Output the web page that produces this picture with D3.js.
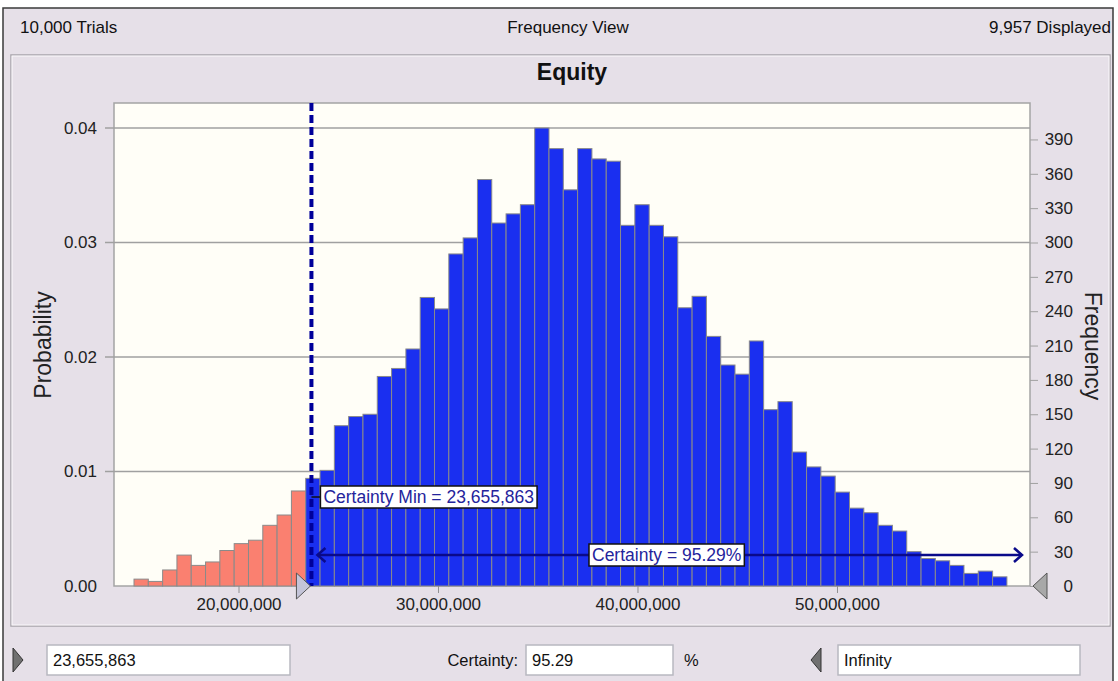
<!DOCTYPE html>
<html>
<head>
<meta charset="utf-8">
<script src="https://cdn.jsdelivr.net/npm/d3@7"></script>
<style>
    body { margin: 0; background: #fff; }
    svg { display: block; font-family: "Liberation Sans", Arial, sans-serif; }
</style>
</head>
<body>
<div id="chart"></div>
<script>
// histogram data
var binStart = 14762000;
var binWidth = 717300;
var frequencies = [
    6, 4, 14, 27, 18, 21, 31, 37, 40, 53, 62, 83,
    94, 101, 140, 148, 150, 183, 190, 207, 252, 242, 290, 304, 355, 317, 325, 333,
    400, 382, 346, 382, 373, 371, 315, 333, 315, 305, 243, 253, 218, 193, 185, 214,
    154, 161, 117, 104, 96, 82, 68, 64, 53, 48, 30, 24, 22, 18, 11, 13, 8
];
var certaintyMin = 23655863;
var certaintyPct = 95.29;
var probTicks = [0, 0.01, 0.02, 0.03, 0.04];
var freqTicks = [0, 30, 60, 90, 120, 150, 180, 210, 240, 270, 300, 330, 360, 390];
var xTicks = [20000000, 30000000, 40000000, 50000000];
var headerLabels = ['10,000 Trials', 'Frequency View', '9,957 Displayed'];
var chartTitle = 'Equity';
var upperLimit = 'Infinity';

var width = 1118, height = 681;
var plot = { left: 114, right: 1030, top: 103, bottom: 586 };
var tickFont = '17px';

var svg = d3.select('#chart').append('svg')
    .attr('width', width)
    .attr('height', height);

// window frame
svg.append('rect')
    .attr('x', 3).attr('y', 8)
    .attr('width', 1110).attr('height', 680)
    .style('fill', '#e6e0e8')
    .style('stroke', '#3a3a3a')
    .style('stroke-width', 1.5);

// inner group box (etched)
svg.append('rect')
    .attr('x', 11).attr('y', 55)
    .attr('width', 1099).attr('height', 571)
    .style('fill', 'none')
    .style('stroke', '#a8a4aa')
    .style('stroke-width', 1.5);
svg.append('rect')
    .attr('x', 12).attr('y', 56)
    .attr('width', 1097).attr('height', 569)
    .style('fill', 'none')
    .style('stroke', '#fbf9fc')
    .style('stroke-width', 1);

// header row
svg.selectAll('text.header')
    .data(headerLabels)
    .enter().append('text')
    .attr('class', 'header')
    .attr('x', function(d, i) { return [20, 568, 1111][i]; })
    .attr('y', 33)
    .attr('text-anchor', function(d, i) { return ['start', 'middle', 'end'][i]; })
    .style('font-size', '17px')
    .style('fill', '#111')
    .text(function(d) { return d; });

svg.append('text')
    .attr('x', 572).attr('y', 80)
    .attr('text-anchor', 'middle')
    .style('font-size', '23px')
    .style('font-weight', 'bold')
    .style('fill', '#111')
    .text(chartTitle);

// scales
var x = d3.scaleLinear()
    .domain([13759000, 59675000])
    .range([plot.left, plot.right]);
var yProb = d3.scaleLinear()
    .domain([0, 0.04])
    .range([plot.bottom, 128]);
var yFreq = d3.scaleLinear()
    .domain([0, 400])
    .range([plot.bottom, 128]);

// plot background
svg.append('rect')
    .attr('x', plot.left).attr('y', plot.top)
    .attr('width', plot.right - plot.left)
    .attr('height', plot.bottom - plot.top)
    .style('fill', '#fffef7')
    .style('stroke', '#a4a4a4')
    .style('stroke-width', 1.5);

// grid lines + left ticks
var grid = svg.append('g');
grid.selectAll('line')
    .data(probTicks.slice(1))
    .enter().append('line')
    .attr('x1', plot.left - 9).attr('x2', plot.right)
    .attr('y1', function(d) { return yProb(d); })
    .attr('y2', function(d) { return yProb(d); })
    .style('stroke', '#a0a0a0')
    .style('stroke-width', 1.5);

// left axis
var leftAxis = d3.axisLeft(yProb)
    .tickValues(probTicks)
    .tickFormat(d3.format('.2f'))
    .tickSize(0)
    .tickPadding(17);
var gl = svg.append('g')
    .attr('transform', 'translate(' + plot.left + ',0)')
    .call(leftAxis);
gl.select('.domain').remove();
gl.selectAll('text').style('font-size', tickFont).style('fill', '#222')
    .style('font-family', '"Liberation Sans", Arial, sans-serif');

// right axis
var rightAxis = d3.axisRight(yFreq)
    .tickValues(freqTicks)
    .tickSize(8)
    .tickPadding(0);
var gr = svg.append('g')
    .attr('transform', 'translate(' + plot.right + ',0)')
    .call(rightAxis);
gr.select('.domain').remove();
gr.selectAll('line').style('stroke', '#a0a0a0');
gr.selectAll('text')
    .attr('x', 43)
    .attr('text-anchor', 'end')
    .style('font-size', tickFont).style('fill', '#222')
    .style('font-family', '"Liberation Sans", Arial, sans-serif');

// bottom axis
var bottomAxis = d3.axisBottom(x)
    .tickValues(xTicks)
    .tickFormat(d3.format(','))
    .tickSize(7)
    .tickPadding(5);
var gb = svg.append('g')
    .attr('transform', 'translate(0,' + plot.bottom + ')')
    .call(bottomAxis);
gb.select('.domain').remove();
gb.selectAll('line').style('stroke', '#909090');
gb.selectAll('text').style('font-size', tickFont).style('fill', '#222')
    .style('font-family', '"Liberation Sans", Arial, sans-serif');

// axis titles
svg.append('text')
    .attr('transform', 'translate(51,345) rotate(-90)')
    .attr('text-anchor', 'middle')
    .style('font-size', '23px')
    .style('fill', '#222')
    .text('Probability');
svg.append('text')
    .attr('transform', 'translate(1085,346) rotate(90)')
    .attr('text-anchor', 'middle')
    .style('font-size', '23px')
    .style('fill', '#222')
    .text('Frequency');

// bars
var bins = frequencies.map(function(f, i) {
    return { x0: binStart + i * binWidth, x1: binStart + (i + 1) * binWidth, f: f };
});
svg.append('g').selectAll('rect')
    .data(bins)
    .enter().append('rect')
    .attr('x', function(d) { return x(d.x0); })
    .attr('width', function(d) { return x(d.x1) - x(d.x0); })
    .attr('y', function(d) { return yFreq(d.f); })
    .attr('height', function(d) { return yFreq(0) - yFreq(d.f); })
    .style('fill', function(d) { return d.x1 <= certaintyMin ? '#fa8070' : '#1a2ff0'; })
    .style('stroke', '#8a8a8a')
    .style('stroke-width', 1);

// certainty min marker line
var xm = x(certaintyMin);
svg.append('line')
    .attr('x1', xm).attr('x2', xm)
    .attr('y1', plot.top).attr('y2', plot.bottom)
    .style('stroke', '#00009a')
    .style('stroke-width', 4)
    .style('stroke-dasharray', '8,4');

// certainty arrow
var arrowY = 555;
var ax0 = xm + 6, ax1 = plot.right - 8;
svg.append('line')
    .attr('x1', ax0).attr('x2', ax1)
    .attr('y1', arrowY).attr('y2', arrowY)
    .style('stroke', '#0a0a8a')
    .style('stroke-width', 2.5);
svg.append('path')
    .attr('d', 'M' + (ax0 + 8) + ',' + (arrowY - 7) + 'L' + ax0 + ',' + arrowY + 'L' + (ax0 + 8) + ',' + (arrowY + 7))
    .style('fill', 'none').style('stroke', '#0a0a8a').style('stroke-width', 2.5);
svg.append('path')
    .attr('d', 'M' + (ax1 - 8) + ',' + (arrowY - 7) + 'L' + ax1 + ',' + arrowY + 'L' + (ax1 - 8) + ',' + (arrowY + 7))
    .style('fill', 'none').style('stroke', '#0a0a8a').style('stroke-width', 2.5);

// labels with white boxes
function boxLabel(txt, lx, ly) {
    var g = svg.append('g');
    var t = g.append('text')
        .attr('x', lx).attr('y', ly)
        .style('font-size', '17.5px')
        .style('fill', '#24249c')
        .text(txt);
    var bb = t.node().getBBox();
    g.insert('rect', 'text')
        .attr('x', bb.x - 3).attr('y', bb.y - 1)
        .attr('width', bb.width + 6).attr('height', bb.height + 2)
        .style('fill', '#fff')
        .style('stroke', '#111')
        .style('stroke-width', 1.5);
    return bb;
}
svg.append('line')
    .attr('x1', xm).attr('x2', xm + 9)
    .attr('y1', 497).attr('y2', 497)
    .style('stroke', '#111').style('stroke-width', 1.5);
boxLabel('Certainty Min = ' + d3.format(',')(certaintyMin), xm + 12, 503);
boxLabel('Certainty = ' + certaintyPct + '%', 592, 561);

// slider handles
function triangle(tipX, tipY, dir, fill) {
    var w = 14, h = 13;
    var bx = tipX - dir * w;
    svg.append('path')
        .attr('d', 'M' + bx + ',' + (tipY - h) + 'L' + tipX + ',' + tipY + 'L' + bx + ',' + (tipY + h) + 'Z')
        .style('fill', fill)
        .style('stroke', '#555')
        .style('stroke-width', 1);
}
triangle(xm - 1, plot.bottom, 1, '#c4c4d8');
triangle(plot.right + 3, plot.bottom, -1, '#a8a8a8');

// bottom controls
var controls = svg.append('g');
function inputBox(bx, bw, val) {
    controls.append('rect')
        .attr('x', bx).attr('y', 645)
        .attr('width', bw).attr('height', 30)
        .style('fill', '#fff')
        .style('stroke', '#b8b8c0')
        .style('stroke-width', 1.5);
    controls.append('text')
        .attr('x', bx + 6).attr('y', 666)
        .style('font-size', '16.5px')
        .style('fill', '#111')
        .text(val);
}
controls.append('path')
    .attr('d', 'M13,648L23,660L13,672Z')
    .style('fill', '#707070').style('stroke', '#333');
inputBox(47, 243, d3.format(',')(certaintyMin));
controls.append('text')
    .attr('x', 518).attr('y', 666)
    .attr('text-anchor', 'end')
    .style('font-size', '16.5px').style('fill', '#111')
    .text('Certainty:');
inputBox(526, 147, certaintyPct);
controls.append('text')
    .attr('x', 684).attr('y', 666)
    .style('font-size', '16.5px').style('fill', '#111')
    .text('%');
controls.append('path')
    .attr('d', 'M821,648L811,660L821,672Z')
    .style('fill', '#707070').style('stroke', '#333');
inputBox(838, 242, upperLimit);
</script>
</body>
</html>
